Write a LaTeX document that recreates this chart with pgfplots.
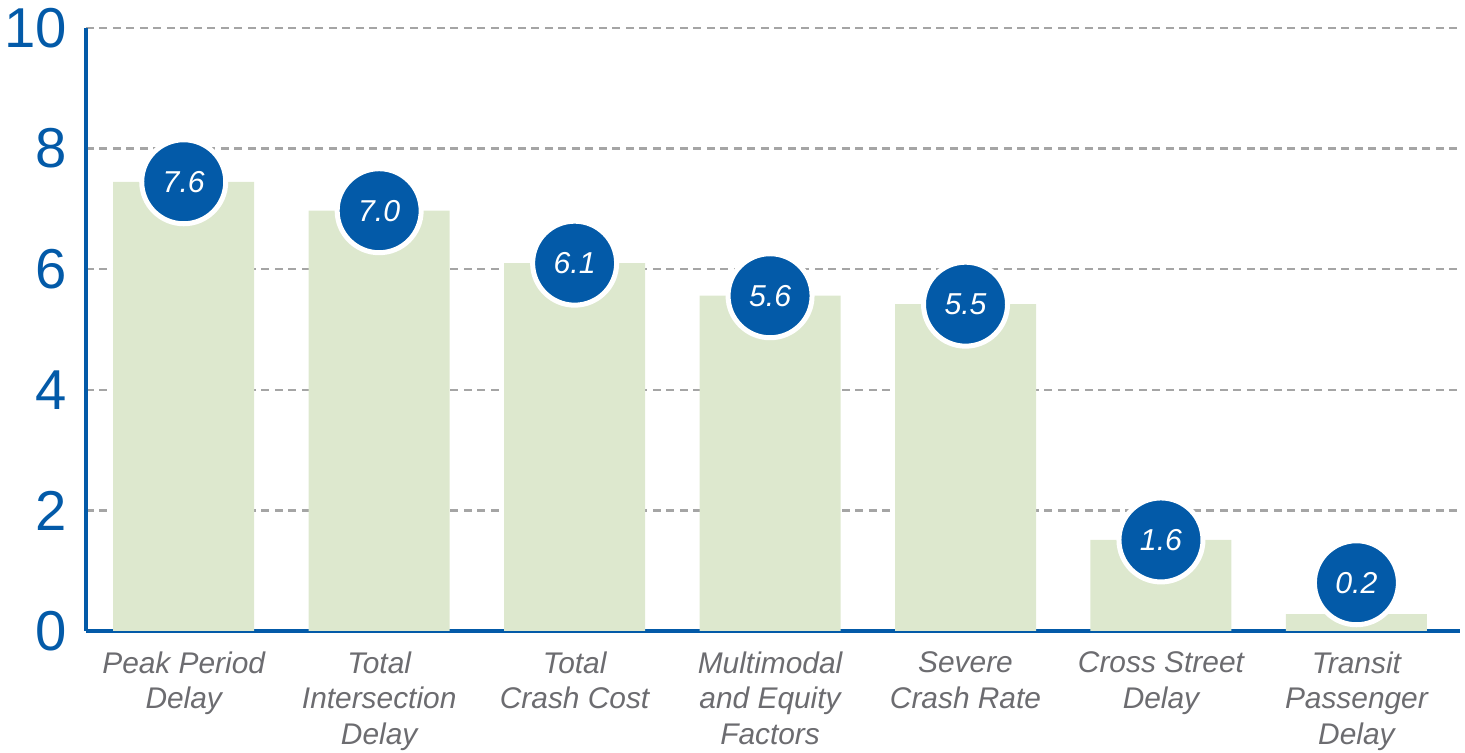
\documentclass[border=0pt]{standalone}
\usepackage{pgfplots}
\pgfplotsset{compat=1.18}
\usepackage{pgfplotstable}
\usepackage{fontspec}
\setmainfont{Liberation Sans}
\definecolor{mblue}{RGB}{3,90,168}
\definecolor{bargreen}{RGB}{221,232,206}
\definecolor{gridgray}{RGB}{165,165,165}
\definecolor{labgray}{RGB}{108,108,112}

% bar height, height of the circle badge, printed value
\pgfplotstableread{
x y    cy   lab
0 7.45 7.45 7.6
1 6.97 6.97 7.0
2 6.10 6.10 6.1
3 5.56 5.56 5.6
4 5.42 5.42 5.5
5 1.51 1.51 1.6
6 0.28 0.80 0.2
}\scores

\begin{document}
\begin{tikzpicture}
  \useasboundingbox (-0.86cm,-1.22cm) rectangle (13.79cm,6.31cm);
  \begin{axis}[
    scale only axis, width=13.74cm, height=6.03cm,
    xmin=-0.5, xmax=6.53, ymin=0, ymax=10,
    ytick={0,2,...,10},
    xtick={0,...,6},
    xticklabels={{Peak Period\\Delay},{Total\\Intersection\\Delay},{Total\\Crash Cost},
      {Multimodal\\and Equity\\Factors},{Severe\\Crash Rate},{Cross Street\\Delay},
      {Transit\\Passenger\\Delay}},
    axis x line*=bottom, axis y line*=left,
    axis line style={mblue, line width=0.9pt, -},
    major tick length=0pt,
    ymajorgrids,
    major grid style={gridgray, line width=0.7pt, dash pattern=on 0.08cm off 0.055cm},
    /pgf/number format/assume math mode=true,
    yticklabel style={mblue, font=\fontsize{16}{19}\selectfont, xshift=-0.07cm},
    xticklabel style={labgray, align=center, yshift=-0.08cm,
      font=\fontsize{8.5}{10.2}\selectfont\itshape},
  ]
    \addplot[ybar, bar width=1.41cm, bar shift=0pt, fill=bargreen, draw=none]
      table[x=x, y=y] {\scores};
    \addplot[draw=none, mark=none, nodes near coords, point meta=explicit symbolic,
      nodes near coords align={center},
      every node near coord/.append style={circle, fill=mblue, draw=white,
        line width=0.05cm, minimum size=0.84cm, inner sep=0pt, anchor=center,
        text=white, font=\fontsize{8.6}{10}\selectfont\itshape}]
      table[x=x, y=cy, meta=lab] {\scores};
  \end{axis}
\end{tikzpicture}
\end{document}
